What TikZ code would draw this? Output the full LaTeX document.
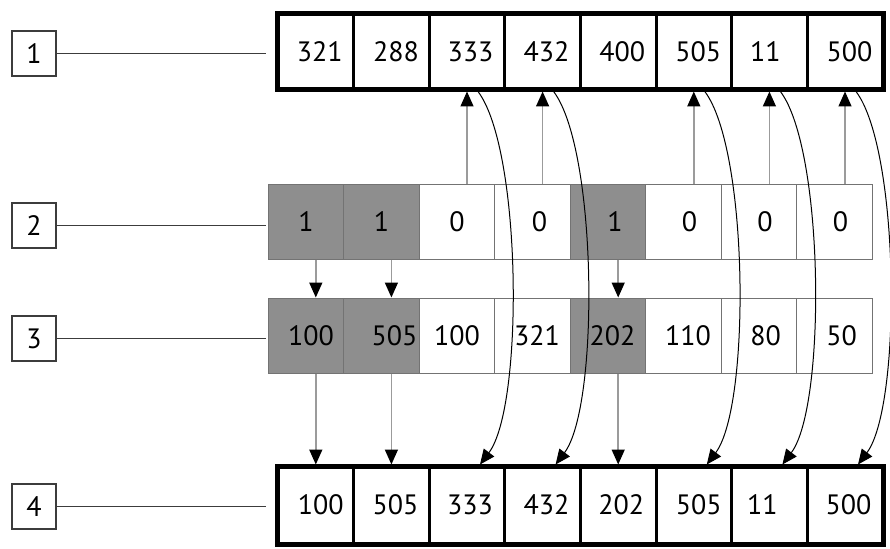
\documentclass[tikz,border=0pt]{standalone}
\usepackage{fontspec}
\setmainfont{PT Sans}
\usetikzlibrary{arrows.meta,calc}
\definecolor{cellgray}{RGB}{142,142,142}
\definecolor{cellline}{RGB}{115,115,115}
\definecolor{linegray}{RGB}{155,155,155}
\definecolor{labline}{RGB}{60,60,60}
\begin{document}
\begin{tikzpicture}[x=1pt,y=1pt,
  font=\fontsize{28}{30}\selectfont,
  labbox/.style={draw=labline, line width=1.5pt, minimum width=44pt, minimum height=45pt, inner sep=0pt},
  labconn/.style={draw=labline, line width=1.5pt},
  bigcell/.style={draw=black, line width=3pt, minimum width=75.6pt, minimum height=74pt, inner sep=0pt},
  midcell/.style={draw=cellline, line width=1pt, fill=white, minimum width=75.5pt, minimum height=75pt, inner sep=0pt},
  shaded/.style={fill=cellgray},
  tipk/.style={-{Triangle[length=15pt,width=13pt,color=black]}},
  straight/.style={draw=linegray, line width=1.5pt, tipk},
  curved/.style={draw=black, line width=1pt, tipk}
]
\useasboundingbox (0,0) rectangle (890,-548);

% label boxes
\node[labbox] (L1) at (34,-53.5) {1};
\node[labbox] (L2) at (34,-225.5) {2};
\node[labbox] (L3) at (34,-338.5) {3};
\node[labbox] (L4) at (34,-506.5) {4};
\coordinate (E1) at (266,-53.5);
\coordinate (E2) at (266,-225.5);
\coordinate (E3) at (266,-338.5);
\coordinate (E4) at (266,-506.5);
\draw[labconn] (L1) -- (E1);
\draw[labconn] (L2) -- (E2);
\draw[labconn] (L3) -- (E3);
\draw[labconn] (L4) -- (E4);

% row 1
\node[bigcell] (a1) at (315.8,-52) {\hspace*{8pt}321};
\node[bigcell] (a2) at (391.4,-52) {\hspace*{9pt}288};
\node[bigcell] (a3) at (467.0,-52) {\hspace*{7pt}333};
\node[bigcell] (a4) at (542.6,-52) {\hspace*{8pt}432};
\node[bigcell] (a5) at (618.2,-52) {\hspace*{8pt}400};
\node[bigcell] (a6) at (693.8,-52) {\hspace*{9pt}505};
\node[bigcell] (a7) at (769.4,-52) {11\hspace*{8pt}};
\node[bigcell] (a8) at (845.0,-52) {\hspace*{9pt}500};
\draw[line width=4pt] (a1.north west) rectangle (a8.south east);

% row 4
\node[bigcell, minimum height=76pt] (d1) at (315.8,-505) {\hspace*{10pt}100};
\node[bigcell, minimum height=76pt] (d2) at (391.4,-505) {\hspace*{8pt}505};
\node[bigcell, minimum height=76pt] (d3) at (467.0,-505) {\hspace*{6pt}333};
\node[bigcell, minimum height=76pt] (d4) at (542.6,-505) {\hspace*{8pt}432};
\node[bigcell, minimum height=76pt] (d5) at (618.2,-505) {\hspace*{6pt}202};
\node[bigcell, minimum height=76pt] (d6) at (693.8,-505) {\hspace*{10pt}505};
\node[bigcell, minimum height=76pt] (d7) at (769.4,-505) {11\hspace*{14pt}};
\node[bigcell, minimum height=76pt] (d8) at (845.0,-505) {\hspace*{7pt}500};
\draw[line width=4pt] (d1.north west) rectangle (d8.south east);

% row 2
\node[midcell, shaded] (b1) at (306.0,-221.5) {1};
\node[midcell, shaded] (b2) at (381.5,-221.5) {1};
\node[midcell] (b3) at (457.0,-221.5) {0};
\node[midcell] (b4) at (532.5,-221.5) {\hspace*{14pt}0};
\node[midcell, shaded] (b5) at (608.0,-221.5) {\hspace*{14pt}1};
\node[midcell] (b6) at (683.5,-221.5) {\hspace*{12pt}0};
\node[midcell] (b7) at (759.0,-221.5) {\hspace*{12pt}0};
\node[midcell] (b8) at (834.5,-221.5) {\hspace*{12pt}0};

% row 3
\node[midcell, shaded] (c1) at (306.0,-335.5) {\hspace*{10pt}100};
\node[midcell, shaded] (c2) at (381.5,-335.5) {\hspace*{26pt}505};
\node[midcell] (c3) at (457.0,-335.5) {100};
\node[midcell] (c4) at (532.5,-335.5) {\hspace*{9pt}321};
\node[midcell, shaded] (c5) at (608.0,-335.5) {\hspace*{9pt}202};
\node[midcell] (c6) at (683.5,-335.5) {\hspace*{9pt}110};
\node[midcell] (c7) at (759.0,-335.5) {\hspace*{13pt}80};
\node[midcell] (c8) at (834.5,-335.5) {\hspace*{14pt}50};

% row 2 (0) -> row 1
\foreach \i in {3,4,6,7,8} {
  \draw[straight] (b\i.north -| a\i.south) -- ([yshift=-1pt]a\i.south);
}
% row 2 (1) -> row 3 -> row 4
\foreach \i in {1,2,5} {
  \draw[straight] (b\i.south -| a\i.south) -- (c\i.north -| a\i.south);
  \draw[straight] (c\i.south -| d\i.north) -- ([yshift=1pt]d\i.north);
}
% row 1 -> row 4 curves
\foreach \i in {3,4,6,7,8} {
  \draw[curved] ([xshift=11pt,yshift=-1pt]a\i.south) to[out=-53,in=53,looseness=0.5] ([xshift=13pt,yshift=1pt]d\i.north);
}
\end{tikzpicture}
\end{document}
